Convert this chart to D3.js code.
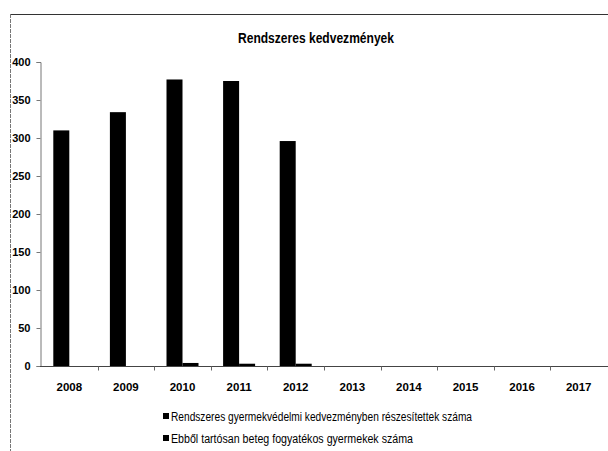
<!DOCTYPE html>
<html>
<head>
<meta charset="utf-8">
<script src="https://cdn.jsdelivr.net/npm/d3@7"></script>
<style>
  body { margin: 0; background: #fff; }
  text { font-family: "Liberation Sans", Arial, sans-serif; fill: #000; }
</style>
</head>
<body>
<div id="chart"></div>
<script>
const years = ["2008", "2009", "2010", "2011", "2012", "2013", "2014", "2015", "2016", "2017"];
const seriesNames = [
  "Rendszeres gyermekvédelmi kedvezményben részesítettek száma",
  "Ebből tartósan beteg fogyatékos gyermekek száma"
];
const recipients = [310, 334, 377, 375, 296, null, null, null, null, null];
const disabled = [0, 0, 4, 3, 3, null, null, null, null, null];
const yTicks = [0, 50, 100, 150, 200, 250, 300, 350, 400];

const width = 608, height = 451;
const svg = d3.select("#chart").append("svg")
  .attr("width", width)
  .attr("height", height);

// scanned frame: top edge and dashed left edge
svg.append("line")
  .attr("x1", 10).attr("x2", 608)
  .attr("y1", 14.5).attr("y2", 14.5)
  .attr("stroke", "#333");
svg.append("line")
  .attr("x1", 10.5).attr("x2", 10.5)
  .attr("y1", 14).attr("y2", 451)
  .attr("stroke", "#777")
  .attr("stroke-dasharray", "4,1");

svg.append("text")
  .attr("x", 316).attr("y", 43)
  .attr("text-anchor", "middle")
  .attr("textLength", 156)
  .attr("lengthAdjust", "spacingAndGlyphs")
  .style("font-size", "15px")
  .style("font-weight", "bold")
  .text("Rendszeres kedvezmények");

const x = d3.scaleBand().domain(years).range([41, 607]);
const y = d3.scaleLinear().domain([0, 400]).range([366, 62]);

const barW = 16;

// y axis
const yAxis = svg.append("g")
  .attr("transform", "translate(40.5,0)")
  .call(d3.axisLeft(y).tickValues(yTicks).tickSize(4).tickPadding(6));
yAxis.select(".domain").attr("stroke", "#777");
yAxis.selectAll(".tick line").attr("stroke", "#777");
yAxis.selectAll("text")
  .style("font-size", "11px")
  .style("font-weight", "bold")
  .style("font-family", "'Liberation Sans', Arial, sans-serif");

// bars
const series = [recipients, disabled];
series.forEach((vals, si) => {
  svg.append("g").selectAll("rect")
    .data(years.map((yr, i) => ({yr, v: vals[i]})).filter(d => d.v != null && d.v > 0))
    .enter().append("rect")
    .attr("x", d => x(d.yr) + x.bandwidth() / 2 - barW + si * barW)
    .attr("y", d => y(d.v))
    .attr("width", barW)
    .attr("height", d => y(0) - y(d.v))
    .attr("fill", "#000");
});

// x axis: ticks on category boundaries
const xAxis = svg.append("g").attr("transform", "translate(0,366.5)");
xAxis.append("line")
  .attr("x1", 40).attr("x2", 608)
  .attr("stroke", "#444");
xAxis.selectAll("line.tick")
  .data(years.slice(1))
  .enter().append("line")
  .attr("class", "tick")
  .attr("x1", d => Math.round(x(d)) + 0.5)
  .attr("x2", d => Math.round(x(d)) + 0.5)
  .attr("y1", 0).attr("y2", 4)
  .attr("stroke", "#666");
xAxis.selectAll("text")
  .data(years)
  .enter().append("text")
  .attr("x", d => x(d) + x.bandwidth() / 2)
  .attr("y", 24)
  .attr("text-anchor", "middle")
  .style("font-size", "11.5px")
  .style("font-weight", "bold")
  .text(d => d);

// legend
const legendWidths = [301, 242];
const legend = svg.append("g");
seriesNames.forEach((name, i) => {
  const ly = 421 + i * 22;
  legend.append("rect")
    .attr("x", 163).attr("y", ly - 8)
    .attr("width", 6).attr("height", 6)
    .attr("fill", "#000");
  legend.append("text")
    .attr("x", 171).attr("y", ly)
    .attr("textLength", legendWidths[i])
    .attr("lengthAdjust", "spacingAndGlyphs")
    .style("font-size", "12.5px")
    .text(name);
});
</script>
</body>
</html>
